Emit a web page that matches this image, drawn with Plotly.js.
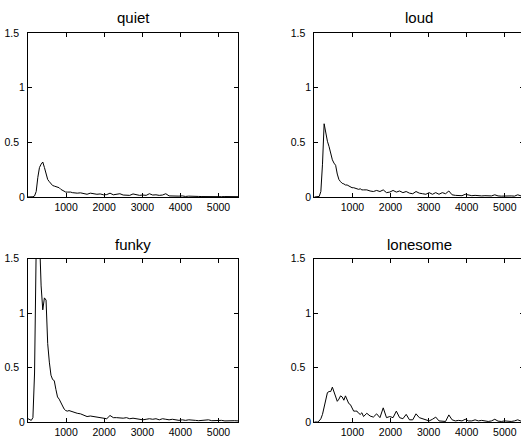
<!DOCTYPE html>
<html>
<head>
<meta charset="utf-8">
<script src="https://cdn.plot.ly/plotly-3.0.1.min.js"></script>
<style>
html,body{margin:0;padding:0;overflow:hidden;background:#fff;}
#chart{width:530px;height:436px;}
</style>
</head>
<body>
<div id="chart"></div>
<script>
// Frequency grid (Hz)
var freq = [0,43,86,129,172,215,258,301,344,388,431,474,517,560,603,646,689,732,775,818,861,904,947,990,1033,1077,1120,1163,1206,1249,1292,
  1378,1464,1550,1636,1723,1809,1895,1981,2067,2153,2239,2326,2412,2498,2584,2670,2756,2842,2928,3015,3101,3187,3273,3359,3445,3531,3617,3703,3790,3876,3962,4048,4134,4220,4306,4393,4479,4565,4651,4737,4823,4909,4995,5081,5168,5254,5340,5426,5512];

var titles = ["quiet","loud","funky","lonesome"];

var quiet = [0,0,0,0.002,0.01,0.05,0.18,0.27,0.30,0.32,0.27,0.20,0.16,0.14,0.12,0.105,0.10,0.095,0.09,0.085,0.07,0.06,0.05,0.045,0.045,0.048,0.045,0.04,0.038,0.035,0.035,
  0.038,0.03,0.025,0.035,0.028,0.025,0.028,0.02,0.022,0.035,0.02,0.022,0.03,0.018,0.015,0.015,0.028,0.018,0.015,0.018,0.015,0.03,0.018,0.02,0.015,0.018,0.03,0.01,0.008,0.005,0.008,0.01,0.005,0.008,0.005,0.004,0.005,0.004,0.003,0.008,0.005,0.004,0.003,0.003,0.004,0.003,0.005,0.004,0.003];

var loud = [0,0,0,0.005,0.05,0.30,0.67,0.58,0.51,0.46,0.40,0.34,0.31,0.29,0.21,0.16,0.14,0.125,0.12,0.11,0.11,0.10,0.095,0.085,0.085,0.08,0.08,0.07,0.075,0.065,0.065,
  0.065,0.055,0.05,0.06,0.05,0.065,0.04,0.045,0.06,0.045,0.055,0.04,0.05,0.035,0.03,0.05,0.035,0.03,0.025,0.04,0.025,0.04,0.025,0.04,0.03,0.055,0.02,0.015,0.015,0.012,0.025,0.015,0.012,0.015,0.01,0.01,0.012,0.008,0.01,0.02,0.01,0.008,0.01,0.008,0.01,0.008,0.02,0.01,0.008];

var funky = [0.03,0.02,0.015,0.04,0.45,1.6,2.1,1.7,1.25,1.03,1.14,1.12,0.72,0.55,0.43,0.39,0.38,0.30,0.23,0.21,0.18,0.14,0.12,0.105,0.10,0.105,0.10,0.09,0.085,0.08,0.08,
  0.075,0.065,0.05,0.055,0.05,0.045,0.045,0.035,0.03,0.06,0.04,0.04,0.035,0.035,0.04,0.03,0.035,0.03,0.025,0.02,0.025,0.03,0.025,0.03,0.02,0.03,0.025,0.02,0.025,0.02,0.015,0.02,0.015,0.02,0.015,0.015,0.012,0.015,0.012,0.02,0.012,0.015,0.012,0.015,0.01,0.012,0.015,0.012,0.01];

var lonesome = [0,0,0,0.01,0.03,0.07,0.13,0.2,0.27,0.28,0.28,0.32,0.27,0.22,0.19,0.21,0.24,0.23,0.20,0.24,0.2,0.17,0.16,0.13,0.10,0.10,0.10,0.08,0.07,0.085,0.05,
  0.08,0.055,0.045,0.075,0.04,0.13,0.04,0.05,0.04,0.10,0.04,0.03,0.07,0.02,0.02,0.075,0.04,0.03,0.02,0.01,0.025,0.045,0.01,0.005,0.005,0.065,0.02,0.01,0.015,0.01,0.025,0.01,0.01,0.02,0.01,0.015,0.008,0.005,0.01,0.025,0.008,0.005,0.01,0.005,0.005,0.01,0.02,0.008,0.005];

var xTicks = [1000,2000,3000,4000,5000];
var yTicks = [0,0.5,1,1.5];
var yTickText = ["0","0.5\u00a0\u00a0","1","1.5\u00a0\u00a0"];

var series = [quiet, loud, funky, lonesome];
var W = 530, H = 436;
var xDom = [[28/W, 238/W], [314.3/W, 524.3/W]];
var yDom = [[(H-197)/H, (H-33)/H], [(H-422)/H, (H-258.7)/H]];
var font = {family: "Liberation Sans, Arial, sans-serif", size: 10.5, color: "#000"};

var data = [], layout = {
  width: W, height: H, margin: {l:0, r:0, t:0, b:0},
  paper_bgcolor: "#fff", plot_bgcolor: "#fff",
  showlegend: false, font: font, annotations: []
};

for (var i = 0; i < 4; i++) {
  var n = i + 1, col = i % 2, row = Math.floor(i / 2);
  var xa = "x" + (n === 1 ? "" : n), ya = "y" + (n === 1 ? "" : n);
  data.push({
    x: freq, y: series[i], xaxis: xa, yaxis: ya, type: "scatter", mode: "lines",
    line: {color: "#000", width: 1}, hoverinfo: "skip"
  });
  var axBase = {
    showline: true, linecolor: "#000", linewidth: 1, mirror: "allticks",
    ticks: "inside", ticklen: 4, tickcolor: "#000", tickwidth: 1,
    showgrid: false, zeroline: false, tickfont: font, fixedrange: true
  };
  layout["xaxis" + (n === 1 ? "" : n)] = Object.assign({}, axBase, {
    domain: xDom[col], range: [0, 5512], tickmode: "array", tickvals: xTicks,
    ticktext: xTicks.map(String), anchor: ya
  });
  layout["yaxis" + (n === 1 ? "" : n)] = Object.assign({}, axBase, {
    domain: yDom[row], range: [0, 1.5], tickmode: "array", tickvals: yTicks,
    ticktext: yTickText, anchor: xa
  });
  var titleY = row === 0 ? 18 : 244;
  layout.annotations.push({
    text: titles[i], xref: "paper", yref: "paper",
    x: (xDom[col][0] + xDom[col][1]) / 2, y: (H - titleY) / H,
    xanchor: "center", yanchor: "middle", showarrow: false,
    font: {family: "Liberation Sans, Arial, sans-serif", size: 15, color: "#000"}
  });
}

Plotly.newPlot("chart", data, layout, {displayModeBar: false, staticPlot: true});
</script>
</body>
</html>
